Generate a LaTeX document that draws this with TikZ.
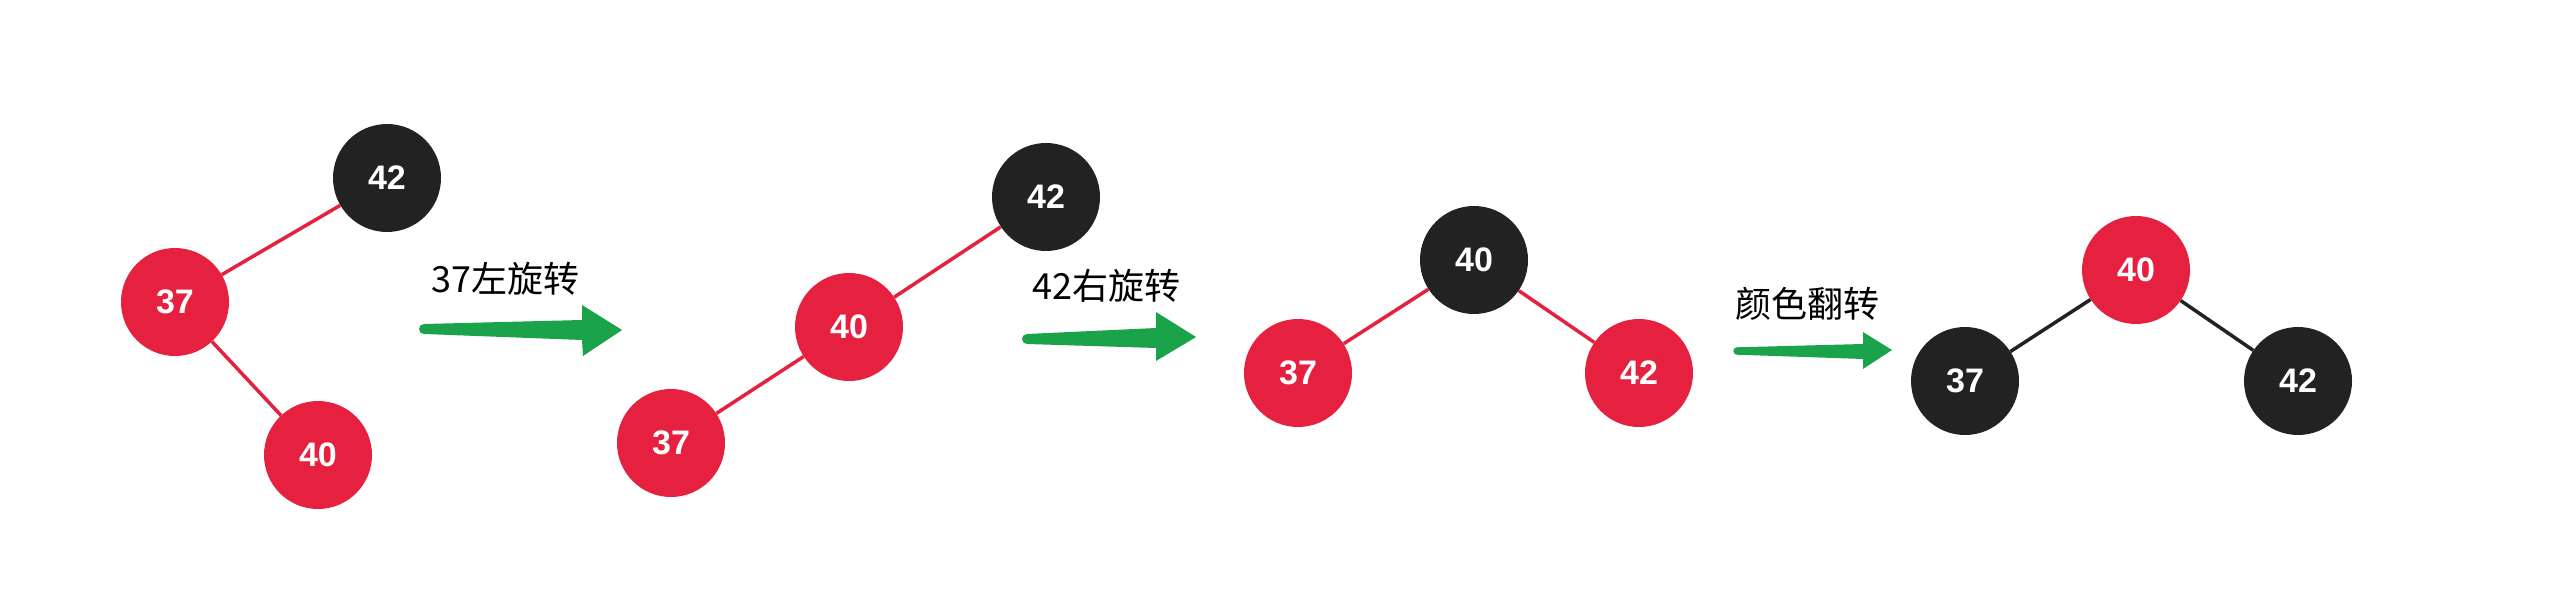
\documentclass[tikz,border=0pt]{standalone}
\usepackage{fontspec}
\setmainfont{Liberation Sans}
\newfontfamily\cjk{Noto Sans CJK SC}
\definecolor{rbred}{HTML}{E5213F}
\definecolor{rbblack}{HTML}{222222}
\definecolor{arrowgreen}{HTML}{1AA34A}
\tikzset{
  treenode/.style={circle, minimum size=108pt, inner sep=0pt, text=white,
    font=\fontsize{34pt}{34pt}\selectfont\bfseries},
  rednode/.style={treenode, fill=rbred},
  blknode/.style={treenode, fill=rbblack},
  rededge/.style={draw=rbred, line width=3.5pt},
  blkedge/.style={draw=rbblack, line width=3.5pt},
  steplabel/.style={anchor=base west, inner sep=0pt, text=black,
    font=\cjk\fontsize{36pt}{36pt}\selectfont},
  arrowfill/.style={fill=arrowgreen}
}
\begin{document}
\begin{tikzpicture}[x=1pt,y=-1pt]
\useasboundingbox[fill=white] (0,0) rectangle (2554,612);
% tree 1
\node[blknode] (a42) at (387,178) {42};
\node[rednode] (a37) at (175,302) {37};
\node[rednode] (a40) at (318,455) {40};
\draw[rededge] (a42) -- (a37);
\draw[rededge] (a37) -- (a40);
% tree 2
\node[blknode] (b42) at (1046,197) {42};
\node[rednode] (b40) at (849,327) {40};
\node[rednode] (b37) at (671,443) {37};
\draw[rededge] (b42) -- (b40);
\draw[rededge] (b40) -- (b37);
% tree 3
\node[blknode] (c40) at (1474,260) {40};
\node[rednode] (c37) at (1298,373) {37};
\node[rednode] (c42) at (1639,373) {42};
\draw[rededge] (c40) -- (c37);
\draw[rededge] (c40) -- (c42);
% tree 4
\node[rednode] (d40) at (2136,270) {40};
\node[blknode] (d37) at (1965,381) {37};
\node[blknode] (d42) at (2298,381) {42};
\draw[blkedge] (d40) -- (d37);
\draw[blkedge] (d40) -- (d42);
% labels
\node[steplabel] (l1) at (431,293) {37左旋转};
\node[steplabel] (l2) at (1032,299.5) {42右旋转};
\node[steplabel] (l3) at (1735,317) {颜色翻转};
% arrows
\coordinate (t1) at (424,329);
\fill[arrowfill] (424,324) -- (582,320) -- (582,305) -- (622,330) -- (583,356) -- (582,340) -- (424,334) -- cycle;
\fill[arrowfill] (t1) circle (5pt);
\coordinate (t2) at (1027,339);
\fill[arrowfill] (1027,334) -- (1156,328) -- (1156,312) -- (1196,337) -- (1156,361) -- (1156,348) -- (1027,344) -- cycle;
\fill[arrowfill] (t2) circle (5pt);
\coordinate (t3) at (1737,351);
\fill[arrowfill] (1737,347.3) -- (1863,344) -- (1863,332) -- (1892,350) -- (1863,369) -- (1863,359) -- (1737,354.7) -- cycle;
\fill[arrowfill] (t3) circle (3.7pt);
\end{tikzpicture}
\end{document}
